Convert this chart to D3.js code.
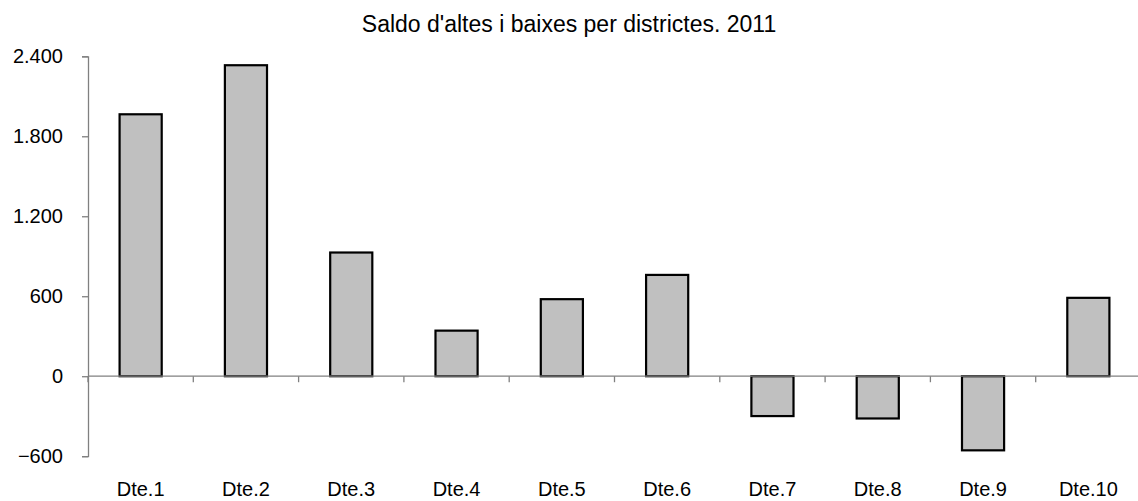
<!DOCTYPE html>
<html>
<head>
<meta charset="utf-8">
<script src="https://cdn.jsdelivr.net/npm/d3@7"></script>
<style>
  html, body { margin: 0; padding: 0; background: #fff; }
  svg { display: block; font-family: "Liberation Sans", Arial, sans-serif; }
</style>
</head>
<body>
<svg id="chart" width="1138" height="501"></svg>
<script>
const categories = ["Dte.1","Dte.2","Dte.3","Dte.4","Dte.5","Dte.6","Dte.7","Dte.8","Dte.9","Dte.10"];
const values = [1965, 2333, 928, 342, 578, 760, -299, -317, -556, 588];
const yTicks = [-600, 0, 600, 1200, 1800, 2400];
const title = "Saldo d'altes i baixes per districtes. 2011";

const svg = d3.select("#chart");
const mLeft = 88, mRight = 1141, mTop = 56.3, mBottom = 456.2;
const fs = 20;

const x = d3.scaleBand().domain(categories).range([mLeft, mRight]).paddingInner(0.6).paddingOuter(0.3);
const y = d3.scaleLinear().domain([-600, 2400]).range([mBottom, mTop]);
const fmt = v => d3.format(",")(v).replace(/,/g, ".");

// title
svg.append("text").attr("x", 569).attr("y", 32).attr("text-anchor", "middle")
  .attr("font-size", 23).attr("fill", "#000").text(title);

// y axis
const yAxis = svg.append("g").attr("transform", `translate(${mLeft},0)`)
  .call(d3.axisLeft(y).tickValues(yTicks).tickSize(6).tickPadding(19).tickFormat(fmt));
yAxis.select(".domain").attr("stroke", "#808080").attr("stroke-width", 1.3);
yAxis.selectAll(".tick line").attr("stroke", "#808080").attr("stroke-width", 1.3);
yAxis.selectAll("text").attr("font-size", fs).attr("fill", "#000").attr("font-family", "Liberation Sans, Arial, sans-serif");

// bars
svg.append("g").selectAll("rect").data(categories).join("rect")
  .attr("x", d => x(d))
  .attr("width", x.bandwidth())
  .attr("y", (d, i) => Math.min(y(values[i]), y(0)))
  .attr("height", (d, i) => Math.abs(y(values[i]) - y(0)))
  .attr("fill", "#c0c0c0").attr("stroke", "#000").attr("stroke-width", 2.2);

// x axis at zero with ticks at band boundaries
const bounds = d3.range(categories.length + 1).map(i => mLeft + i * (mRight - mLeft) / categories.length);
const xg = svg.append("g");
xg.append("line").attr("x1", mLeft).attr("x2", 1138).attr("y1", y(0)).attr("y2", y(0))
  .attr("stroke", "#808080").attr("stroke-width", 1.3);
xg.selectAll("line.tk").data(bounds).join("line").attr("class", "tk")
  .attr("x1", d => d).attr("x2", d => d).attr("y1", y(0)).attr("y2", y(0) + 6)
  .attr("stroke", "#808080").attr("stroke-width", 1.3);

// x labels
svg.append("g").selectAll("text").data(categories).join("text")
  .attr("x", d => x(d) + x.bandwidth() / 2)
  .attr("y", 496)
  .attr("text-anchor", "middle")
  .attr("font-size", fs).attr("fill", "#000").text(d => d);
</script>
</body>
</html>
